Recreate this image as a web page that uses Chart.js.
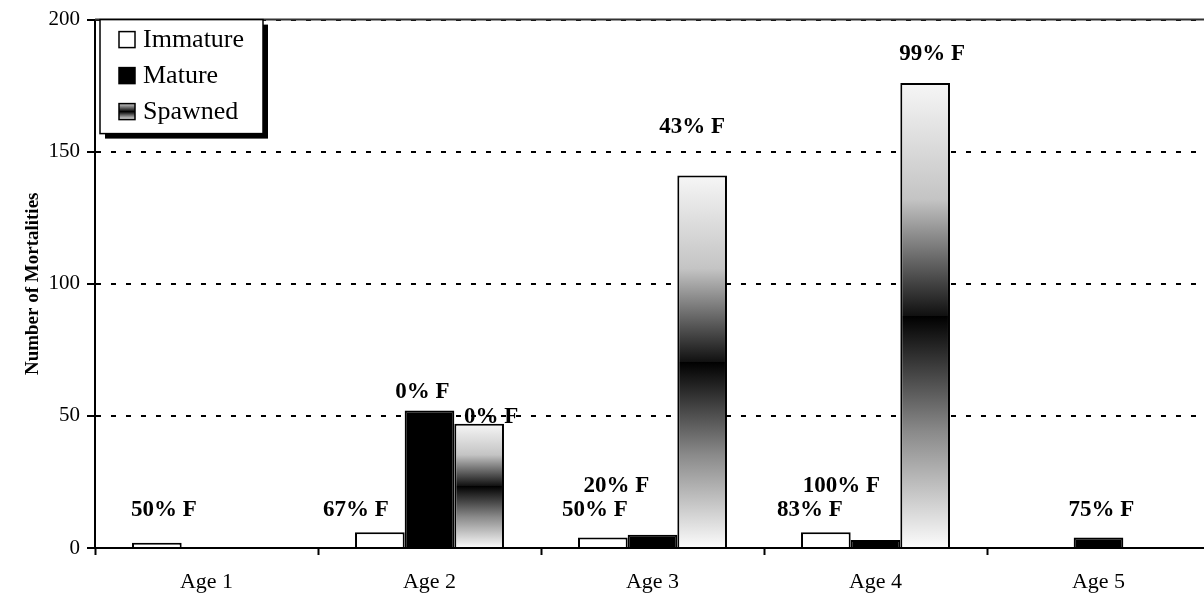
<!DOCTYPE html>
<html>
<head>
<meta charset="utf-8">
<script src="https://cdn.jsdelivr.net/npm/chart.js@4.4.0/dist/chart.umd.min.js"></script>
<style>
  html, body { margin: 0; padding: 0; background: #fff; overflow: hidden; width: 1204px; height: 595px; }
  #wrap { width: 1220px; height: 595px; position: relative; }
</style>
</head>
<body>
<div id="wrap"><canvas id="c" width="1220" height="595"></canvas></div>
<script>
// Mortalities by age class and maturity stage
const ages = ['Age 1', 'Age 2', 'Age 3', 'Age 4', 'Age 5'];
const immature = [2, 6, 4, 6, null];
const mature = [null, 52, 5, 3, 4];
const spawned = [null, 47, 141, 176, null];

// percent-female annotations for each bar
const immatureLabels = ['50% F', '67% F', '50% F', '83% F', null];
const matureLabels = [null, '0% F', '20% F', '100% F', '75% F'];
const spawnedLabels = [null, '0% F', '43% F', '99% F', null];

const yTicks = [0, 50, 100, 150, 200];

// hand placement of each annotation: [dx, dy] in px from the bar's top centre
const immatureNudge = [[7, -33], [-24, -22], [-8, -27], [-16, -22], null];
const matureNudge = [null, [-7, -19], [-36, -49], [-34, -54], [3, -27]];
const spawnedNudge = [null, [12, -7], [-10, -48], [7, -29], null];

const FONT = "'Liberation Serif', 'Times New Roman', serif";
Chart.defaults.font.family = FONT;
Chart.defaults.color = '#000';

// light at both ends, black through the middle of each bar
function spawnedFill(ctx) {
  const chart = ctx.chart;
  if (!chart.chartArea || !ctx.parsed || ctx.parsed.y == null) return '#808080';
  const ys = chart.scales.y;
  const top = ys.getPixelForValue(ctx.parsed.y);
  const base = ys.getPixelForValue(0);
  const g = chart.ctx.createLinearGradient(0, top, 0, base);
  g.addColorStop(0, '#f6f6f6');
  g.addColorStop(0.25, '#c4c4c4');
  g.addColorStop(0.5, '#111111');
  g.addColorStop(0.5, '#000000');
  g.addColorStop(0.75, '#8a8a8a');
  g.addColorStop(1, '#fcfcfc');
  return g;
}

const barLabels = {
  id: 'barLabels',
  afterDatasetsDraw(chart) {
    const c = chart.ctx;
    c.save();
    c.font = 'bold 23px ' + FONT;
    c.fillStyle = '#000';
    c.textAlign = 'center';
    c.textBaseline = 'middle';
    chart.data.datasets.forEach((ds, i) => {
      const meta = chart.getDatasetMeta(i);
      ds.pctLabels.forEach((txt, j) => {
        if (!txt) return;
        const el = meta.data[j];
        const [dx, dy] = ds.nudge[j] || [0, -20];
        c.fillText(txt, el.x + dx, el.y + dy);
      });
    });
    c.restore();
  }
};

// top edge of the plot area under the 200 grid line
const plotFrame = {
  id: 'plotFrame',
  beforeDatasetsDraw(chart) {
    const c = chart.ctx, a = chart.chartArea;
    const yTop = chart.scales.y.getPixelForValue(200);
    c.save();
    c.strokeStyle = '#333';
    c.lineWidth = 2;
    c.beginPath();
    c.moveTo(a.left, yTop);
    c.lineTo(a.right, yTop);
    c.stroke();
    c.restore();
  }
};

const legendBox = {
  id: 'legendBox',
  afterDraw(chart) {
    const c = chart.ctx, a = chart.chartArea;
    const x = a.left + 5, y = a.top, w = 163, h = 114;
    c.save();
    c.fillStyle = '#000';
    c.fillRect(x + 5, y + 5, w, h);
    c.fillStyle = '#fff';
    c.fillRect(x, y, w, h);
    c.lineWidth = 1.5;
    c.strokeStyle = '#000';
    c.strokeRect(x, y, w, h);
    c.font = '26px ' + FONT;
    c.textBaseline = 'middle';
    c.textAlign = 'left';
    chart.data.datasets.forEach((ds, i) => {
      const cy = y + 20 + i * 36;
      const sx = x + 19, sy = cy - 8, s = 16;
      if (i === 2) {
        const g = c.createLinearGradient(0, sy, 0, sy + s);
        g.addColorStop(0, '#d0d0d0');
        g.addColorStop(0.5, '#000');
        g.addColorStop(1, '#e8e8e8');
        c.fillStyle = g;
      } else {
        c.fillStyle = ds.legendFill;
      }
      c.fillRect(sx, sy, s, s);
      c.lineWidth = 1.5;
      c.strokeStyle = '#000';
      c.strokeRect(sx, sy, s, s);
      c.fillStyle = '#000';
      c.fillText(ds.label, x + 43, cy + 1);
    });
    c.restore();
  }
};

new Chart(document.getElementById('c'), {
  type: 'bar',
  data: {
    labels: ages,
    datasets: [
      { label: 'Immature', data: immature, backgroundColor: '#ffffff', borderColor: '#000', borderWidth: 2,
        legendFill: '#ffffff', pctLabels: immatureLabels, nudge: immatureNudge },
      { label: 'Mature', data: mature, backgroundColor: '#000000', borderColor: '#000', borderWidth: 2,
        legendFill: '#000000', pctLabels: matureLabels, nudge: matureNudge },
      { label: 'Spawned', data: spawned, backgroundColor: spawnedFill, borderColor: '#000', borderWidth: 2,
        legendFill: '#888', pctLabels: spawnedLabels, nudge: spawnedNudge }
    ]
  },
  options: {
    responsive: false,
    devicePixelRatio: 1,
    animation: false,
    layout: { padding: { left: 0, right: 10, top: 18, bottom: 0 } },
    datasets: { bar: { categoryPercentage: 0.668, barPercentage: 1.0 } },
    plugins: { legend: { display: false }, tooltip: { enabled: false } },
    scales: {
      x: {
        type: 'category',
        offset: true,
        grid: { offset: true, drawOnChartArea: false, drawTicks: true, tickLength: 7, tickWidth: 2,
                tickColor: '#000', tickBorderDash: [] },
        border: { display: true, color: '#000', width: 2 },
        ticks: { font: { size: 22 }, color: '#000', padding: 14, maxRotation: 0 },
        afterFit: s => { s.height = 47; }
      },
      y: {
        min: 0, max: 200,
        afterBuildTicks: s => { s.ticks = yTicks.map(v => ({ value: v })); },
        grid: {
          color: c => (c.tick && c.tick.value === 0) ? 'rgba(0,0,0,0)' : '#000',
          lineWidth: 2, drawTicks: true, tickLength: 8, tickWidth: 2, tickColor: '#000', tickBorderDash: []
        },
        border: { display: true, color: '#000', width: 2, dash: [5, 10] },
        ticks: { font: { size: 21 }, color: '#000', padding: 7 },
        title: { display: true, text: 'Number of Mortalities', color: '#000',
                 font: { size: 19, weight: 'bold' }, padding: { top: 22, bottom: 0 } },
        afterFit: s => { s.width = 95; }
      }
    }
  },
  plugins: [plotFrame, barLabels, legendBox]
});
</script>
</body>
</html>
